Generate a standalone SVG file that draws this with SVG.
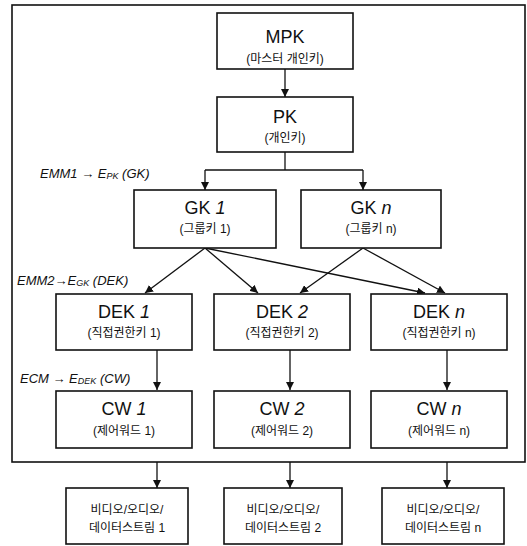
<svg xmlns="http://www.w3.org/2000/svg" width="527" height="546" viewBox="0 0 527 546">
<style>
.box{fill:#fff;stroke:#111;stroke-width:1.6}
.frame{fill:none;stroke:#111;stroke-width:1.6}
.ln{fill:none;stroke:#111;stroke-width:1.3}
.t{font-family:"Liberation Sans",Arial,sans-serif;font-size:18px;fill:#111;text-anchor:middle}
.s{font-family:"Liberation Sans","Noto Sans CJK KR",sans-serif;font-size:12px;fill:#111;text-anchor:middle}
.lab{font-family:"Liberation Sans",Arial,sans-serif;font-size:13px;font-style:italic;fill:#111}
.i{font-style:italic}
</style>
<defs>
<marker id="ah" viewBox="0 0 10 10" refX="10" refY="5" markerWidth="8" markerHeight="8" markerUnits="userSpaceOnUse" orient="auto">
<path d="M0,0 L10,5 L0,10 z" fill="#111"/>
</marker>
</defs>
<rect class="frame" x="12" y="5" width="513" height="457"/>
<g id="connectors">
<line class="ln" x1="285" y1="69" x2="285" y2="97" marker-end="url(#ah)"/>
<line class="ln" x1="285" y1="152" x2="285" y2="170"/>
<line class="ln" x1="205" y1="170" x2="363" y2="170"/>
<line class="ln" x1="205" y1="170" x2="205" y2="190" marker-end="url(#ah)"/>
<line class="ln" x1="363" y1="170" x2="363" y2="190" marker-end="url(#ah)"/>
<line class="ln" x1="205" y1="248" x2="145" y2="293" marker-end="url(#ah)"/>
<line class="ln" x1="205" y1="248" x2="258" y2="293" marker-end="url(#ah)"/>
<line class="ln" x1="205" y1="248" x2="425" y2="293" marker-end="url(#ah)"/>
<line class="ln" x1="363" y1="248" x2="300" y2="293" marker-end="url(#ah)"/>
<line class="ln" x1="363" y1="248" x2="445" y2="293" marker-end="url(#ah)"/>
<line class="ln" x1="157" y1="350" x2="157" y2="390" marker-end="url(#ah)"/>
<line class="ln" x1="290" y1="350" x2="290" y2="390" marker-end="url(#ah)"/>
<line class="ln" x1="447" y1="350" x2="447" y2="390" marker-end="url(#ah)"/>
<line class="ln" x1="157" y1="462" x2="157" y2="488" marker-end="url(#ah)"/>
<line class="ln" x1="290" y1="462" x2="290" y2="488" marker-end="url(#ah)"/>
<line class="ln" x1="447" y1="462" x2="447" y2="488" marker-end="url(#ah)"/>
</g>
<g id="labels">
<text class="lab" x="40" y="178">EMM1 → E<tspan font-size="9" dy="1">PK</tspan><tspan dy="-1"> (GK)</tspan></text>
<text class="lab" x="17" y="285">EMM2→E<tspan font-size="9" dy="1">GK</tspan><tspan dy="-1"> (DEK)</tspan></text>
<text class="lab" x="20" y="383">ECM → E<tspan font-size="9" dy="1">DEK</tspan><tspan dy="-1"> (CW)</tspan></text>
</g>
<g id="mpk">
<rect class="box" x="217" y="13" width="136" height="56"/>
<text class="t" x="285" y="43">MPK</text>
<text class="s" x="285" y="63">(마스터 개인키)</text>
</g>
<g id="pk">
<rect class="box" x="217" y="97" width="136" height="55"/>
<text class="t" x="285" y="123">PK</text>
<text class="s" x="285" y="142">(개인키)</text>
</g>
<g id="gk1">
<rect class="box" x="134" y="190" width="142" height="58"/>
<text class="t" x="205" y="214">GK <tspan class="i">1</tspan></text>
<text class="s" x="205" y="233">(그룹키 1)</text>
</g>
<g id="gkn">
<rect class="box" x="301" y="190" width="140" height="58"/>
<text class="t" x="371" y="214">GK <tspan class="i">n</tspan></text>
<text class="s" x="371" y="233">(그룹키 n)</text>
</g>
<g id="dek1">
<rect class="box" x="56" y="294" width="136" height="56"/>
<text class="t" x="124" y="318">DEK <tspan class="i">1</tspan></text>
<text class="s" x="124" y="337">(직접권한키 1)</text>
</g>
<g id="dek2">
<rect class="box" x="214" y="294" width="136" height="56"/>
<text class="t" x="282" y="318">DEK <tspan class="i">2</tspan></text>
<text class="s" x="282" y="337">(직접권한키 2)</text>
</g>
<g id="dekn">
<rect class="box" x="371" y="294" width="136" height="56"/>
<text class="t" x="439" y="318">DEK <tspan class="i">n</tspan></text>
<text class="s" x="439" y="337">(직접권한키 n)</text>
</g>
<g id="cw1">
<rect class="box" x="56" y="391" width="136" height="57"/>
<text class="t" x="124" y="415">CW <tspan class="i">1</tspan></text>
<text class="s" x="124" y="435">(제어워드 1)</text>
</g>
<g id="cw2">
<rect class="box" x="214" y="391" width="136" height="57"/>
<text class="t" x="282" y="415">CW <tspan class="i">2</tspan></text>
<text class="s" x="282" y="435">(제어워드 2)</text>
</g>
<g id="cwn">
<rect class="box" x="371" y="391" width="136" height="57"/>
<text class="t" x="439" y="415">CW <tspan class="i">n</tspan></text>
<text class="s" x="439" y="435">(제어워드 n)</text>
</g>
<g id="stream1">
<rect class="box" x="66" y="488" width="122" height="56"/>
<text class="s" x="127" y="514">비디오/오디오/</text>
<text class="s" x="127" y="532">데이터스트림 1</text>
</g>
<g id="stream2">
<rect class="box" x="224" y="488" width="118" height="56"/>
<text class="s" x="283" y="514">비디오/오디오/</text>
<text class="s" x="283" y="532">데이터스트림 2</text>
</g>
<g id="streamn">
<rect class="box" x="382" y="488" width="122" height="56"/>
<text class="s" x="443" y="514">비디오/오디오/</text>
<text class="s" x="443" y="532">데이터스트림 n</text>
</g>
</svg>
